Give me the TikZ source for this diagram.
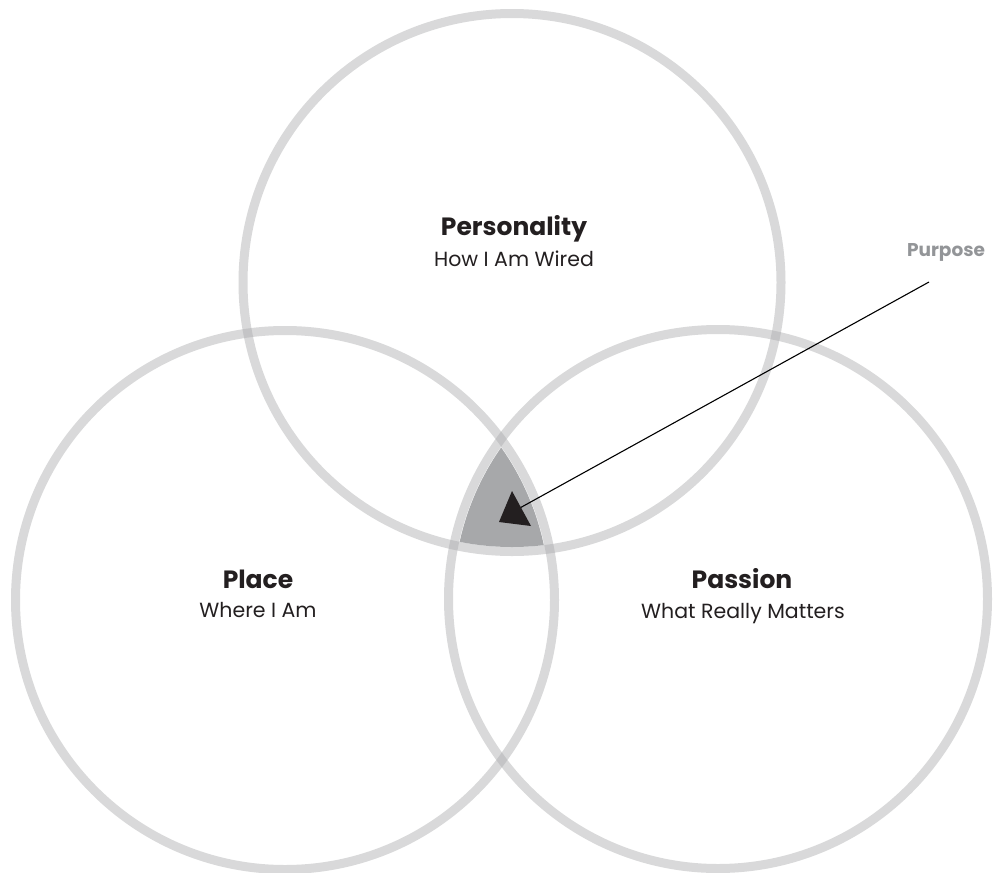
\documentclass[tikz,border=0pt]{standalone}
\usepackage{fontspec}
\setmainfont{Poppins}
\begin{document}
\begin{tikzpicture}[x=1pt,y=-1pt,
  ring/.style={draw=ringgray,line width=9pt,draw opacity=0.45},
  titletext/.style={font=\fontsize{25}{29}\selectfont\bfseries,text=darktext,anchor=base,inner sep=0pt},
  subtext/.style={font=\fontsize{20.5}{24}\selectfont,text=darktext,anchor=base,inner sep=0pt},
  purposetext/.style={font=\fontsize{18.5}{22}\selectfont\bfseries,text=purposegray,anchor=base,inner sep=0pt},
  pointer/.style={draw=black,line width=1.1pt}]
\definecolor{ringgray}{HTML}{ABACAE}
\definecolor{fillgray}{HTML}{A7A8AA}
\definecolor{darktext}{HTML}{231F20}
\definecolor{purposegray}{HTML}{939598}
\useasboundingbox (0,0) rectangle (994,873);
\fill[white] (0,0) rectangle (994,873);
% centre intersection
\begin{scope}
  \clip (512,282.5) circle[radius=264.5];
  \clip (285,600) circle[radius=264.5];
  \fill[fillgray] (718,599) circle[radius=264.5];
\end{scope}
% rings
\draw[ring] (512,282.5) circle[radius=269];
\draw[ring] (285,600) circle[radius=269.5];
\draw[ring] (718,599) circle[radius=269.5];
% texts
\node[titletext] (pers) at (514,235) {Personality};
\node[subtext] (persub) at (514,266) {How I Am Wired};
\node[titletext] (place) at (258,588) {Place};
\node[subtext] (placesub) at (258,617) {Where I Am};
\node[titletext] (pass) at (742,588) {Passion};
\node[subtext] (passsub) at (743,618) {What Really Matters};
\node[purposetext] (purp) at (946,256) {Purpose};
% pointer
\coordinate (lstart) at (929,282);
\coordinate (tip) at (518,509);
\draw[pointer] (lstart) -- (tip);
\fill[darktext] (512,491) -- (499,522) -- (531,526) -- cycle;
\end{tikzpicture}
\end{document}
